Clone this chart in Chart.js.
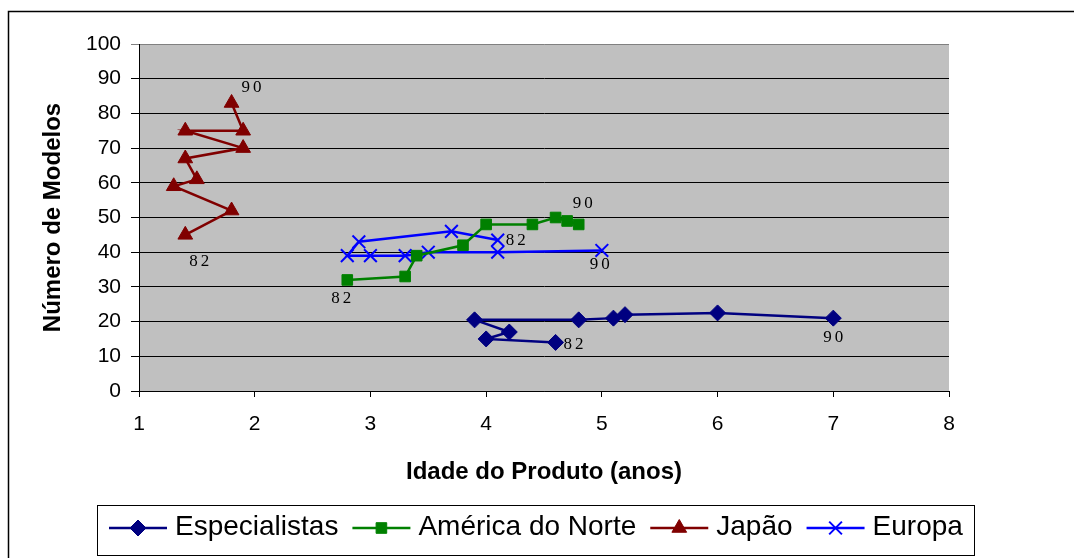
<!DOCTYPE html>
<html>
<head>
<meta charset="utf-8">
<title>Número de Modelos x Idade do Produto</title>
<script src="https://cdn.jsdelivr.net/npm/chart.js@4/dist/chart.umd.min.js"></script>
<style>
    body { margin: 0; background: #fff; }
    #wrap { width: 1074px; height: 558px; }
</style>
</head>
<body>
<div id="wrap"><canvas id="scatterChart"></canvas></div>
<script>
// dados (um ponto por ano, de 82 a 90)
const anoInicial = '82';
const anoFinal = '90';

const xTicks = [1, 2, 3, 4, 5, 6, 7, 8];
const yTicks = [0, 10, 20, 30, 40, 50, 60, 70, 80, 90, 100];

const especialistasX = [4.6, 4.0, 4.2, 3.9, 4.8, 5.1, 5.2, 6.0, 7.0];
const especialistasY = [14, 15, 17, 20.5, 20.5, 21, 22, 22.5, 21];

const americaX = [2.8, 3.3, 3.4, 3.8, 4.0, 4.4, 4.6, 4.7, 4.8];
const americaY = [32, 33, 39, 42, 48, 48, 50, 49, 48];

const japaoX = [1.4, 1.8, 1.3, 1.5, 1.4, 1.9, 1.4, 1.9, 1.8];
const japaoY = [45, 52, 59, 61, 67, 70, 75, 75, 83];

const europaX = [4.1, 3.7, 2.9, 2.8, 3.0, 3.3, 3.5, 4.1, 5.0];
const europaY = [43.5, 46, 43, 39, 39, 39, 40, 40, 40.5];

function pontos(xs, ys) {
    return xs.map((x, i) => ({ x: x, y: ys[i] }));
}

const fonte = '"Liberation Sans", Arial, sans-serif';
Chart.defaults.font.family = fonte;
Chart.defaults.color = '#000';

// fundo cinza da área do gráfico e moldura externa
const fundo = {
    id: 'fundo',
    beforeDraw(chart) {
        const { ctx, chartArea } = chart;
        ctx.save();
        ctx.fillStyle = '#C0C0C0';
        ctx.fillRect(chartArea.left, chartArea.top, chartArea.right - chartArea.left, chartArea.bottom - chartArea.top);
        ctx.strokeStyle = '#000';
        ctx.lineWidth = 1.5;
        ctx.strokeRect(8.5, 11.5, 1200, 700);
        ctx.restore();
    }
};

// rótulos "82" e "90" no primeiro e último ponto de cada série
const rotulosAnos = {
    id: 'rotulosAnos',
    afterDatasetsDraw(chart) {
        const ctx = chart.ctx;
        ctx.save();
        ctx.font = '17px "Liberation Serif", "Times New Roman", serif';
        ctx.fillStyle = '#000';
        ctx.textAlign = 'center';
        ctx.textBaseline = 'middle';
        if ('letterSpacing' in ctx) ctx.letterSpacing = '3px';
        chart.data.datasets.forEach((ds, i) => {
            const meta = chart.getDatasetMeta(i);
            const primeiro = meta.data[0];
            const ultimo = meta.data[meta.data.length - 1];
            const off = ds.rotuloOffsets;
            ctx.fillText(anoInicial, primeiro.x + off[0][0] + 1.5, primeiro.y + off[0][1]);
            ctx.fillText(anoFinal, ultimo.x + off[1][0] + 1.5, ultimo.y + off[1][1]);
        });
        ctx.restore();
    }
};

// legenda em caixa embaixo, com linha + marcador
const legenda = {
    id: 'legenda',
    afterDraw(chart) {
        const ctx = chart.ctx;
        ctx.save();
        ctx.fillStyle = '#fff';
        ctx.fillRect(97.5, 505.5, 877, 50);
        ctx.strokeStyle = '#000';
        ctx.lineWidth = 1;
        ctx.strokeRect(97.5, 505.5, 877, 50);
        ctx.font = '28px ' + fonte;
        ctx.textBaseline = 'middle';
        let x = 109;
        const y = 528;
        chart.data.datasets.forEach(ds => {
            ctx.strokeStyle = ds.borderColor;
            ctx.lineWidth = ds.borderWidth;
            ctx.beginPath();
            ctx.moveTo(x, y);
            ctx.lineTo(x + 58, y);
            ctx.stroke();
            ctx.fillStyle = ds.pointBackgroundColor;
            ctx.strokeStyle = ds.pointBorderColor;
            ctx.lineWidth = ds.pointBorderWidth;
            Chart.helpers.drawPoint(ctx, {
                pointStyle: ds.pointStyle,
                radius: ds.pointRadius,
                borderWidth: ds.pointBorderWidth,
                rotation: 0
            }, x + 29, y);
            ctx.fillStyle = '#000';
            ctx.fillText(ds.label, x + 66, y - 1);
            x += 66 + ctx.measureText(ds.label).width + 14;
        });
        ctx.restore();
    }
};

document.addEventListener('DOMContentLoaded', () => {
    const serie = (label, xs, ys, cor, estilo, raio, bw, offsets) => ({
        label: label,
        data: pontos(xs, ys),
        showLine: true,
        borderColor: cor,
        backgroundColor: cor,
        borderWidth: 2.5,
        pointStyle: estilo,
        pointRadius: raio,
        pointHoverRadius: raio,
        pointBackgroundColor: cor,
        pointBorderColor: cor,
        pointBorderWidth: bw,
        tension: 0,
        rotuloOffsets: offsets
    });

    const config = {
        type: 'scatter',
        data: {
            datasets: [
                serie('Especialistas', especialistasX, especialistasY, '#000080', 'rectRot', 8, 1, [[18, 2], [0, 19]]),
                serie('América do Norte', americaX, americaY, '#008000', 'rect', 7.5, 1, [[-6, 19], [4, -21]]),
                serie('Japão', japaoX, japaoY, '#800000', 'triangle', 8.5, 1, [[14, 27], [20, -15]]),
                serie('Europa', europaX, europaY, '#0000FF', 'crossRot', 9, 2, [[18, 0], [-2, 14]])
            ]
        },
        options: {
            responsive: true,
            maintainAspectRatio: false,
            animation: false,
            layout: { padding: { left: 30, right: 125, top: 44, bottom: 67 } },
            plugins: {
                legend: { display: false },
                tooltip: { enabled: false }
            },
            scales: {
                x: {
                    type: 'linear',
                    min: xTicks[0],
                    max: xTicks[xTicks.length - 1],
                    afterBuildTicks: scale => { scale.ticks = xTicks.map(v => ({ value: v })); },
                    ticks: { color: '#000', font: { size: 21 }, padding: 15, maxRotation: 0 },
                    grid: { drawOnChartArea: false, color: '#000', tickLength: 6 },
                    border: { color: '#000', width: 1 },
                    title: {
                        display: true,
                        text: 'Idade do Produto (anos)',
                        color: '#000',
                        font: { size: 24, weight: 'bold' },
                        padding: { top: 0, bottom: 4 }
                    },
                    afterFit: scale => { scale.height = 100; }
                },
                y: {
                    type: 'linear',
                    min: yTicks[0],
                    max: yTicks[yTicks.length - 1],
                    afterBuildTicks: scale => { scale.ticks = yTicks.map(v => ({ value: v })); },
                    ticks: { color: '#000', font: { size: 21 }, padding: 10 },
                    grid: {
                        color: c => (c.tick && c.tick.value === 100 ? '#808080' : '#000'),
                        tickLength: 8
                    },
                    border: { color: '#000', width: 1 },
                    title: {
                        display: true,
                        text: 'Número de Modelos',
                        color: '#000',
                        font: { size: 24, weight: 'bold' },
                        padding: { top: 9, bottom: 0 }
                    },
                    afterFit: scale => { scale.width = 109; }
                }
            }
        },
        plugins: [fundo, rotulosAnos, legenda]
    };

    const ctx = document.getElementById('scatterChart').getContext('2d');
    new Chart(ctx, config);
});
</script>
</body>
</html>
